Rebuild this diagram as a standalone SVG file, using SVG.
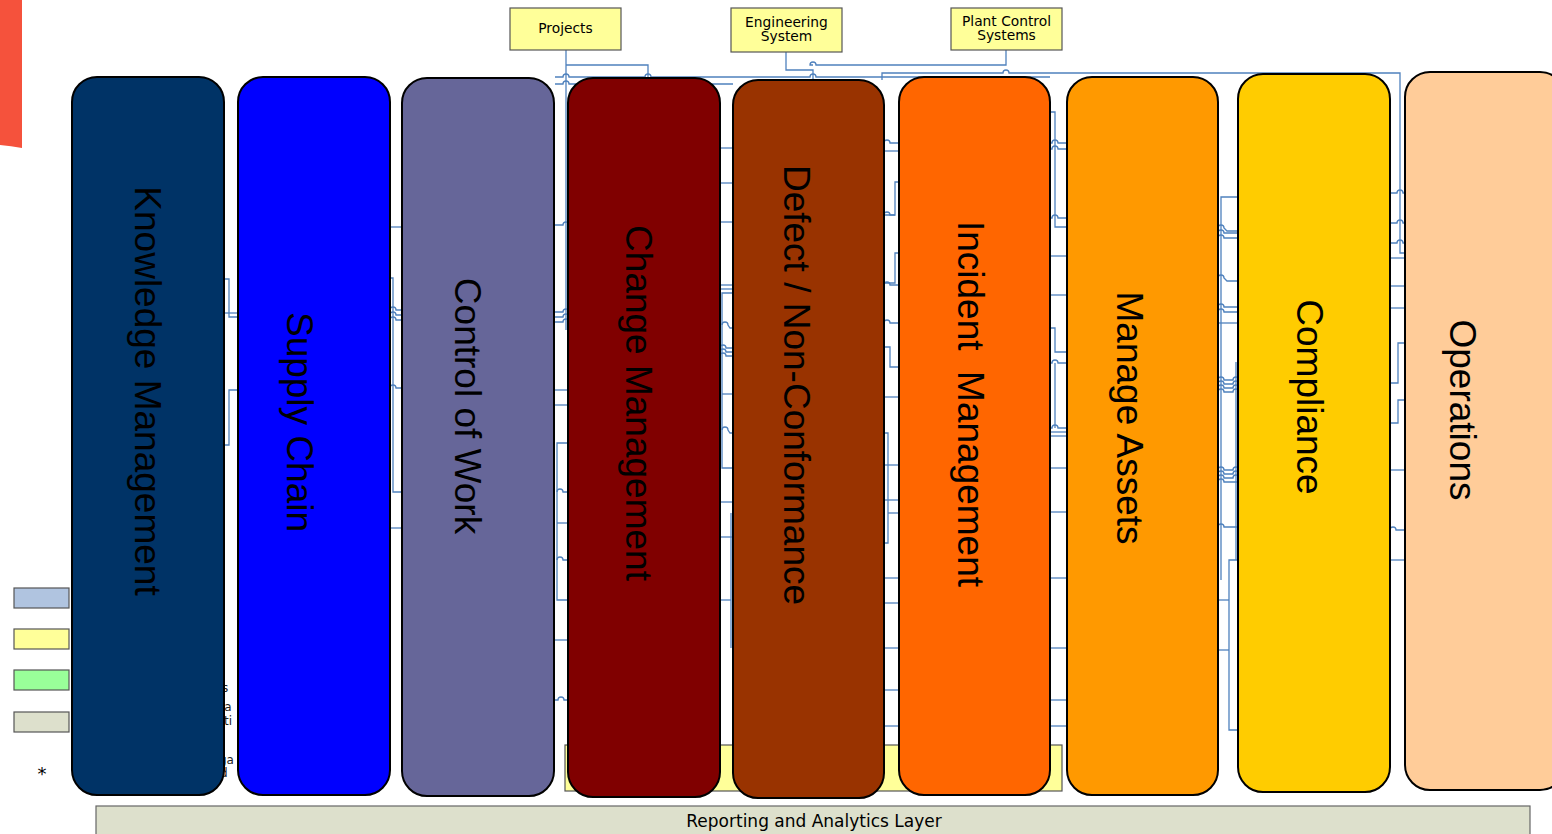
<svg xmlns="http://www.w3.org/2000/svg" width="1552" height="834" viewBox="0 0 1552 834">
<style>
.col{stroke:#000;stroke-width:2}
.lbl{font-family:"Liberation Sans",Arial,sans-serif;font-size:37px;fill:#000;text-anchor:middle}
.box{fill:#FFFF99;stroke:#555;stroke-width:1.2}
.bt{font-family:"DejaVu Sans",Verdana,sans-serif;font-size:13.8px;fill:#000;text-anchor:middle}
.rl{font-family:"DejaVu Sans",Verdana,sans-serif;font-size:17px;fill:#000;text-anchor:middle}
.c path{fill:none;stroke:#4F81BD;stroke-width:1.3}
.leg{stroke:#555;stroke-width:1.2}
.frag{font-family:"DejaVu Sans",Verdana,sans-serif;font-size:12px;fill:#222}
.star{font-family:"DejaVu Sans",Verdana,sans-serif;font-size:18px;fill:#000;text-anchor:middle}
</style>
<rect width="1552" height="834" fill="#fff"/>
<path d="M0,0 H22 V148 Q11,146 0,145 Z" fill="#F5523C"/>

<g id="legend">
<rect class="leg" x="14" y="588" width="55" height="20" fill="#B0C4E0"/>
<rect class="leg" x="14" y="629" width="55" height="20" fill="#FFFF99"/>
<rect class="leg" x="14" y="670" width="55" height="20" fill="#99FF99"/>
<rect class="leg" x="14" y="712" width="55" height="20" fill="#DDE0CC"/>
<text class="star" x="42" y="780">*</text>
<text class="frag" x="222" y="692">s</text>
<text class="frag" x="221" y="711">la</text>
<text class="frag" x="219" y="725">rti</text>
<text class="frag" x="219" y="764">ga</text>
<text class="frag" x="220" y="777">d</text>
</g>

<g id="hidden-box">
<rect class="box" x="565" y="745" width="497" height="46"/>
</g>

<g class="c" id="connectors">
<!-- top -->
<path d="M566,50 V330"/>
<path d="M555,77 H563 a3,3 0 0 1 6,0 H645 a3,3 0 0 1 6,0 H810 a3,3 0 0 1 6,0 H1050"/>
<path d="M555,84 H563 a3,3 0 0 1 6,0 H733"/>
<path d="M566,65 H648 V79"/>
<path d="M786,52 V70 H813 V80"/>
<path d="M1006,50 V65 H816 a3,3 0 0 0 -6,0 H813"/>
<path d="M882,80 V73 H1003 a3,3 0 0 1 6,0 H1400 V253 H1405"/>
<!-- gap 1 -->
<path d="M224,279 H229 V317 H238"/>
<path d="M224,313 H238"/>
<path d="M238,390 H229 V445 H224"/>
<!-- gap 2 -->
<path d="M390,227 H402"/>
<path d="M390,278 H393 V492 H402"/>
<path d="M390,310 a3,3 0 0 1 6,0 H402"/>
<path d="M390,315 a3,3 0 0 1 6,0 H402"/>
<path d="M390,320 a3,3 0 0 1 6,0 H402"/>
<path d="M390,388 a3,3 0 0 1 6,0 H402"/>
<path d="M390,528 H402"/>
<!-- gap 3 -->
<path d="M554,225 H563 a3,3 0 0 1 6,0 H570"/>
<path d="M554,312 H563 a3,3 0 0 1 6,0 H570"/>
<path d="M554,317 H563 a3,3 0 0 1 6,0 H570"/>
<path d="M554,322 H563 a3,3 0 0 1 6,0 H570"/>
<path d="M554,390 H568"/>
<path d="M554,405 H568"/>
<path d="M568,443 H557 V600 H568"/>
<path d="M557,492 a3,3 0 0 1 6,0 H568"/>
<path d="M557,523 H568"/>
<path d="M557,560 a3,3 0 0 1 6,0 H568"/>
<path d="M554,640 H568"/>
<path d="M554,700 H558 a3,3 0 0 1 6,0 H568"/>
<!-- gap 4 -->
<path d="M720,148 H733"/>
<path d="M720,183 H733"/>
<path d="M720,222 H733"/>
<path d="M720,285 H733"/>
<path d="M720,289 H733"/>
<path d="M733,293 H722 V468 H733"/>
<path d="M722,325 a3,3 0 0 1 6,0 l2,3 H733"/>
<path d="M720,348 a3,3 0 0 1 6,0 H733"/>
<path d="M720,352 a3,3 0 0 1 6,0 H733"/>
<path d="M720,356 a3,3 0 0 1 6,0 H733"/>
<path d="M722,394 H733"/>
<path d="M722,430 a3,3 0 0 1 6,0 l2,3 H733"/>
<path d="M720,502 H733"/>
<path d="M720,537 H733"/>
<path d="M731,513 V648"/>
<path d="M720,600 H731"/>
<!-- gap 5 -->
<path d="M884,143 a3,3 0 0 1 6,0 H899"/>
<path d="M884,151 H899"/>
<path d="M899,182 H895 V215 H884"/>
<path d="M884,215 a3,3 0 0 1 6,0 H895"/>
<path d="M899,253 H895 V283 H884"/>
<path d="M884,285 a3,3 0 0 1 6,0 H899"/>
<path d="M884,323 a3,3 0 0 1 6,0 H899"/>
<path d="M884,347 H890 V367 H899"/>
<path d="M884,397 H899"/>
<path d="M884,433 H888 V543 H884"/>
<path d="M884,465 H899"/>
<path d="M884,500 H899"/>
<path d="M888,513 H899"/>
<path d="M884,578 H899"/>
<path d="M884,603 H899"/>
<path d="M884,648 H899"/>
<path d="M884,690 H899"/>
<path d="M884,726 H899"/>
<!-- gap 6 -->
<path d="M1050,112 H1055 V227 H1067"/>
<path d="M1050,143 H1052 a3,3 0 0 1 6,0 H1067"/>
<path d="M1050,149 H1052 a3,3 0 0 1 6,0 H1067"/>
<path d="M1050,218 H1052 a3,3 0 0 1 6,0 H1067"/>
<path d="M1050,256 H1067"/>
<path d="M1050,295 H1067"/>
<path d="M1050,328 H1055 V352 H1067"/>
<path d="M1050,363 H1052 a3,3 0 0 1 6,0 H1067"/>
<path d="M1055,363 V428"/>
<path d="M1050,428 H1052 a3,3 0 0 1 6,0 H1067"/>
<path d="M1050,432 H1067"/>
<path d="M1050,436 H1067"/>
<path d="M1050,468 H1067"/>
<path d="M1050,512 H1067"/>
<path d="M1050,578 H1067"/>
<path d="M1050,648 H1067"/>
<path d="M1050,700 H1067"/>
<path d="M1050,726 H1067"/>
<!-- gap 7 -->
<path d="M1238,197 H1221 V580"/>
<path d="M1218,228 a3,3 0 0 1 6,0 l3,3 H1238"/>
<path d="M1218,233 a3,3 0 0 1 6,0 H1238"/>
<path d="M1218,238 a3,3 0 0 1 6,0 H1238"/>
<path d="M1218,278 a3,3 0 0 1 6,0 l3,3 H1238"/>
<path d="M1218,307 a3,3 0 0 1 6,0 H1238"/>
<path d="M1218,312 a3,3 0 0 1 6,0 H1238"/>
<path d="M1218,323 H1238"/>
<path d="M1236,362 V560"/>
<path d="M1218,380 a3,3 0 0 1 6,0 H1233 a3,3 0 0 1 6,0"/>
<path d="M1218,384 a3,3 0 0 1 6,0 H1233 a3,3 0 0 1 6,0"/>
<path d="M1218,388 a3,3 0 0 1 6,0 H1233 a3,3 0 0 1 6,0"/>
<path d="M1218,392 a3,3 0 0 1 6,0 H1233 a3,3 0 0 1 6,0"/>
<path d="M1218,470 a3,3 0 0 1 6,0 H1233 a3,3 0 0 1 6,0"/>
<path d="M1218,474 a3,3 0 0 1 6,0 H1233 a3,3 0 0 1 6,0"/>
<path d="M1218,478 a3,3 0 0 1 6,0 H1233 a3,3 0 0 1 6,0"/>
<path d="M1218,482 a3,3 0 0 1 6,0 H1238"/>
<path d="M1218,527 a3,3 0 0 1 6,0 H1238"/>
<path d="M1238,560 H1229 V730 H1238"/>
<path d="M1218,600 H1229"/>
<path d="M1218,650 H1229"/>
<!-- gap 8 -->
<path d="M1390,193 H1397 a3,3 0 0 1 6,0 H1405"/>
<path d="M1390,223 H1397 a3,3 0 0 1 6,0 H1405"/>
<path d="M1390,243 H1397 a3,3 0 0 1 6,0 H1405"/>
<path d="M1390,258 H1405"/>
<path d="M1390,286 H1405"/>
<path d="M1390,308 H1405"/>
<path d="M1390,383 H1398 V343 H1405"/>
<path d="M1405,400 H1398 V423 H1390"/>
<path d="M1390,470 H1405"/>
<path d="M1390,530 a3,3 0 0 1 6,0 H1405"/>
<path d="M1390,560 H1405"/>
</g>

<g id="knowledge-management">
<rect class="col" x="72" y="77" width="152" height="718" rx="25" fill="#003366"/>
<text class="lbl" transform="translate(135,391) rotate(90)">Knowledge Management</text>
</g>
<g id="supply-chain">
<rect class="col" x="238" y="77" width="152" height="718" rx="25" fill="#0000FF"/>
<text class="lbl" transform="translate(287,422) rotate(90)">Supply Chain</text>
</g>
<g id="control-of-work">
<rect class="col" x="402" y="78" width="152" height="718" rx="25" fill="#666699"/>
<text class="lbl" transform="translate(455,406) rotate(90)">Control of Work</text>
</g>
<g id="change-management">
<rect class="col" x="568" y="78" width="152" height="719" rx="25" fill="#800000"/>
<text class="lbl" transform="translate(626,403) rotate(90)">Change Management</text>
</g>
<g id="defect-non-conformance">
<rect class="col" x="733" y="80" width="151" height="718" rx="25" fill="#993300"/>
<text class="lbl" transform="translate(784,385) rotate(90)">Defect / Non-Conformance</text>
</g>
<g id="incident-management">
<rect class="col" x="899" y="77" width="151" height="718" rx="25" fill="#FF6600"/>
<text class="lbl" xml:space="preserve" transform="translate(958,404) rotate(90)">Incident  Management</text>
</g>
<g id="manage-assets">
<rect class="col" x="1067" y="77" width="151" height="718" rx="25" fill="#FF9900"/>
<text class="lbl" transform="translate(1117,418) rotate(90)">Manage Assets</text>
</g>
<g id="compliance">
<rect class="col" x="1238" y="74" width="152" height="718" rx="25" fill="#FFCC00"/>
<text class="lbl" transform="translate(1297,397) rotate(90)">Compliance</text>
</g>
<g id="operations">
<rect class="col" x="1405" y="72" width="160" height="718" rx="25" fill="#FFCC99"/>
<text class="lbl" transform="translate(1450,410) rotate(90)">Operations</text>
</g>

<g id="projects">
<rect class="box" x="510" y="8" width="111" height="42"/>
<text class="bt" x="565.5" y="33">Projects</text>
</g>
<g id="engineering-system">
<rect class="box" x="731" y="8" width="111" height="44"/>
<text class="bt" x="786.5" y="27">Engineering</text>
<text class="bt" x="786.5" y="41">System</text>
</g>
<g id="plant-control-systems">
<rect class="box" x="951" y="8" width="111" height="42"/>
<text class="bt" x="1006.5" y="26">Plant Control</text>
<text class="bt" x="1006.5" y="40">Systems</text>
</g>

<g id="reporting-layer">
<rect x="96" y="806" width="1434" height="40" fill="#DDE0CC" stroke="#666" stroke-width="1.2"/>
<text class="rl" x="814" y="827">Reporting and Analytics Layer</text>
</g>
</svg>
